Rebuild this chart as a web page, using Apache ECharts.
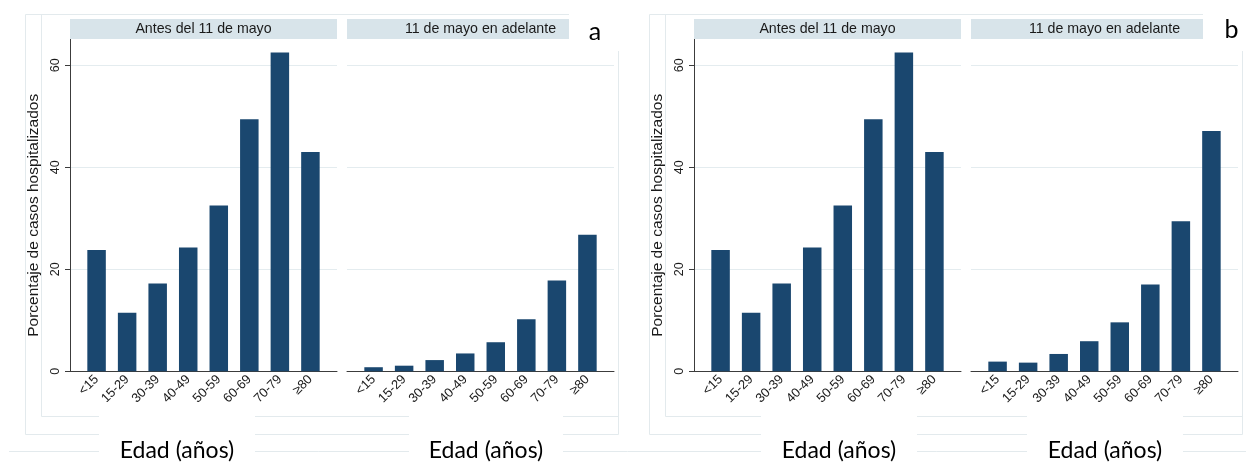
<!DOCTYPE html>
<html><head><meta charset="utf-8">
<script src="https://cdn.jsdelivr.net/npm/echarts@6/dist/echarts.min.js"></script>
<style>html,body{margin:0;padding:0;background:#fff}#c{width:1246px;height:462px}</style>
</head><body><div id="c"></div>
<script>
// ---- data ----
const categories = ['<15', '15-29', '30-39', '40-49', '50-59', '60-69', '70-79', '≥80'];
const antesA   = [23.8, 11.5, 17.2, 24.3, 32.5, 49.4, 62.5, 43.0];
const despuesA = [0.8, 1.1, 2.2, 3.5, 5.7, 10.2, 17.8, 26.8];
const antesB   = [23.8, 11.5, 17.2, 24.3, 32.5, 49.4, 62.5, 43.0];
const despuesB = [1.9, 1.7, 3.4, 5.9, 9.6, 17.0, 29.4, 47.1];
const yTicks = [0, 20, 40, 60];
const stripLabels = ['Antes del 11 de mayo', '11 de mayo en adelante'];
const panelLabels = ['a', 'b'];
const yTitle = 'Porcentaje de casos hospitalizados';
const xTitle = 'Edad (años)';

// ---- layout ----
const panelDx = [0, 624];
const facetLeft = [70, 347];
const facetW = 267, plotTop = 39, plotH = 332.3;
const barColor = '#1a476f';
const axisColor = '#3c3c3c';
const gridColor = '#e4ecef';
const frameColor = '#e3eaed';
const stripColor = '#d8e4ea';
const txt = '#1a1a1a';
const sans = 'Liberation Sans, Arial, sans-serif';

const seriesVals = [[antesA, despuesA], [antesB, despuesB]];
const grids = [], xAxes = [], yAxes = [], series = [], graphics = [];
let gi = 0;
for (let p = 0; p < 2; p++) {
  for (let f = 0; f < 2; f++) {
    const left = facetLeft[f] + panelDx[p];
    grids.push({ left: left, top: plotTop, width: facetW, height: plotH, containLabel: false });
    xAxes.push({
      gridIndex: gi, type: 'value', min: -0.87, max: 7.87,
      axisLine: { show: true, onZero: false, lineStyle: { color: axisColor, width: 1 } },
      axisTick: { show: false },
      splitLine: { show: false },
      axisLabel: {
        customValues: categories.map((c, i) => i),
        formatter: v => categories[Math.round(v)],
        rotate: 45, fontSize: 13, color: txt, fontFamily: sans, margin: 6
      }
    });
    yAxes.push({
      gridIndex: gi, type: 'value', min: 0, max: 65.16,
      axisLine: { show: f === 0, onZero: false, lineStyle: { color: axisColor, width: 1 } },
      axisTick: { show: f === 0, customValues: yTicks, length: 5, lineStyle: { color: axisColor } },
      axisLabel: { show: f === 0, customValues: yTicks, rotate: 90, fontSize: 12.5, color: txt, fontFamily: sans, margin: 8 },
      splitLine: { show: true, lineStyle: { color: gridColor, width: 1 } }
    });
    const vals = seriesVals[p][f];
    series.push({
      type: 'bar', xAxisIndex: gi, yAxisIndex: gi, barWidth: 18.5, silent: true,
      itemStyle: { color: barColor },
      data: vals.map((v, i) => [i, v])
    });
    // strip
    graphics.push({ type: 'rect', z: 50, shape: { x: left, y: 19, width: facetW, height: 20 }, style: { fill: stripColor } });
    graphics.push({ type: 'text', z: 51, x: left + facetW / 2, y: 29.5,
      style: { text: stripLabels[f], fill: txt, fontSize: 14.2, fontFamily: sans, align: 'center', verticalAlign: 'middle' } });
    gi++;
  }
  const dx = panelDx[p];
  // frames
  graphics.push({ type: 'rect', z: -5, shape: { x: 25.5 + dx, y: 14.5, width: 593, height: 420 }, style: { fill: 'none', stroke: frameColor, lineWidth: 1 } });
  graphics.push({ type: 'line', z: -5, shape: { x1: 41.5 + dx, y1: 14.5, x2: 41.5 + dx, y2: 416.5 }, style: { stroke: frameColor, lineWidth: 1 } });
  graphics.push({ type: 'line', z: -5, shape: { x1: 41.5 + dx, y1: 416.5, x2: 618.5 + dx, y2: 416.5 }, style: { stroke: frameColor, lineWidth: 1 } });
  // y title
  graphics.push({ type: 'text', z: 60, x: 33.6 + dx, y: 215.3, rotation: Math.PI / 2,
    style: { text: yTitle, fill: txt, fontSize: 15.5, fontFamily: sans, align: 'center', verticalAlign: 'middle' } });
}
graphics.push({ type: 'line', z: -5, shape: { x1: 9, y1: 451.5, x2: 1246, y2: 451.5 }, style: { stroke: frameColor, lineWidth: 1 } });
// panel label covers
const labelBoxes = [[569, 76, 595, 32], [1203, 43, 1231.5, 30]];
labelBoxes.forEach((b, i) => {
  graphics.push({ type: 'rect', z: 80, shape: { x: b[0], y: 0, width: b[1], height: 51 }, style: { fill: '#fff' } });
  graphics.push({ type: 'text', z: 81, x: b[2], y: b[3],
    style: { text: panelLabels[i], fill: '#000', fontSize: 25, fontFamily: 'Lato, sans-serif', align: 'center', verticalAlign: 'middle' } });
});
// x title boxes
const edadBoxes = [[99, 255], [409, 563], [761, 917], [1027, 1183]];
edadBoxes.forEach(b => {
  graphics.push({ type: 'rect', z: 80, shape: { x: b[0], y: 402, width: b[1] - b[0], height: 60 }, style: { fill: '#fff' } });
  graphics.push({ type: 'text', z: 81, x: (b[0] + b[1]) / 2, y: 451,
    style: { text: xTitle, fill: '#000', fontSize: 23, fontFamily: 'Lato, sans-serif', align: 'center', verticalAlign: 'middle' } });
});

const chart = echarts.init(document.getElementById('c'), null, { renderer: 'canvas' });
chart.setOption({
  animation: false,
  backgroundColor: '#fff',
  grid: grids, xAxis: xAxes, yAxis: yAxes, series: series,
  graphic: { elements: graphics }
});
</script>
</body></html>
